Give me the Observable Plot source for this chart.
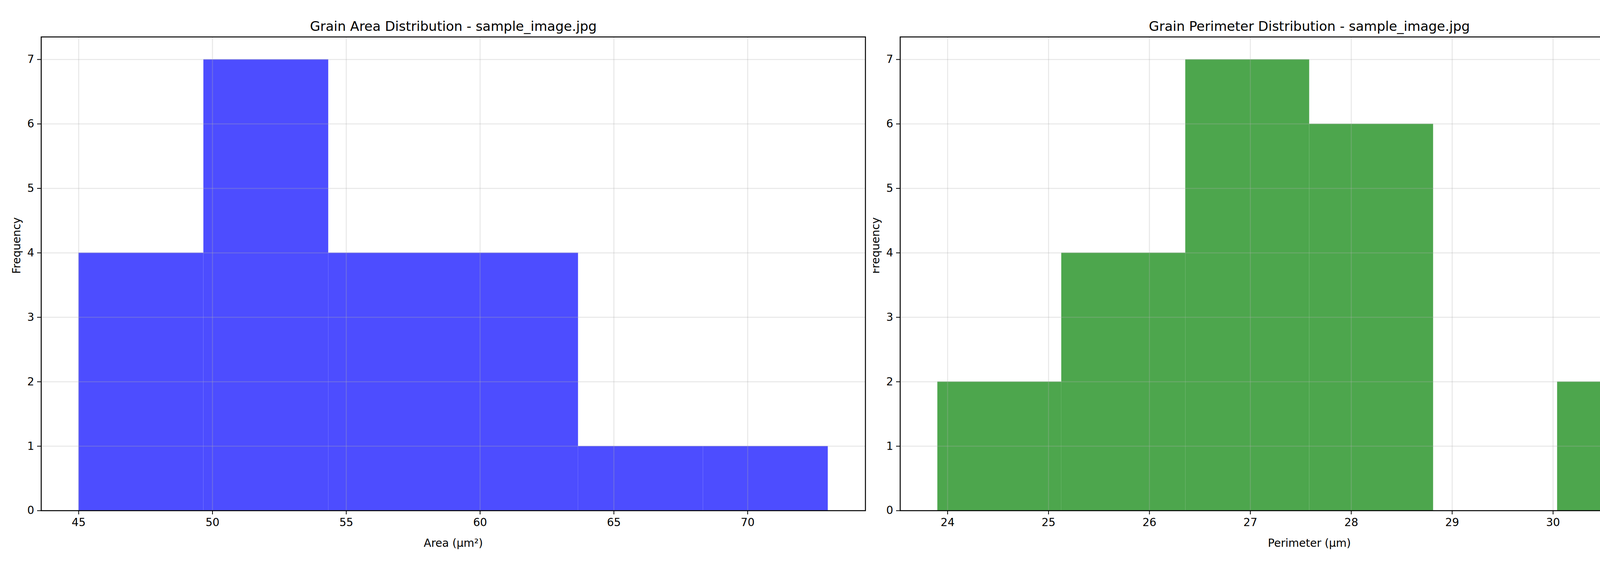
<!DOCTYPE html>
<html><head><meta charset="utf-8">
<script src="https://cdn.jsdelivr.net/npm/d3@7"></script>
<script src="https://cdn.jsdelivr.net/npm/@observablehq/plot@0.6"></script>
<style>html,body{margin:0;padding:0;background:#fff;overflow:hidden;font-family:"DejaVu Sans",sans-serif}
#c{position:relative;width:4470px;height:1466px}
#c svg{position:absolute;top:0;display:block;max-width:none!important}</style>
</head><body><div id="c"></div>
<script>
const areaEdges = [45, 49.667, 54.333, 59, 63.667, 68.333, 73];
const areaCounts = [4, 7, 4, 4, 1, 1];
const areaTicks = [45, 50, 55, 60, 65, 70];
const perimEdges = [23.9, 25.128, 26.357, 27.585, 28.813, 30.042, 31.27];
const perimCounts = [2, 4, 7, 6, 0, 2];
const perimTicks = [24, 25, 26, 27, 28, 29, 30, 31];
const yTicks = [0, 1, 2, 3, 4, 5, 6, 7];

function panel(edges, counts, xTicks, xdom, color, title, xlabel, ml, mr) {
  const bins = counts.map((c, i) => ({x1: edges[i], x2: edges[i+1], y: c}));
  return Plot.plot({
    width: 2235, height: 1466,
    marginLeft: ml, marginRight: mr, marginTop: 94, marginBottom: 160,
    style: {fontFamily: "DejaVu Sans", fontSize: "28px", color: "#000", background: "#fff", maxWidth: "none"},
    x: {domain: xdom, label: null},
    y: {domain: [0, 7.35], label: null},
    marks: [
      Plot.rectY(bins, {x1: "x1", x2: "x2", y: "y", fill: color}),
      Plot.gridX(xTicks, {stroke: "#b0b0b0", strokeOpacity: 0.3, strokeWidth: 2.5}),
      Plot.gridY(yTicks, {stroke: "#b0b0b0", strokeOpacity: 0.3, strokeWidth: 2.5}),
      Plot.axisX(xTicks, {tickSize: 10, tickPadding: 10, fontSize: 28, tickFormat: "d", label: null, strokeWidth: 2}),
      Plot.axisY(yTicks, {tickSize: 10, tickPadding: 8, fontSize: 28, tickFormat: "d", label: null, strokeWidth: 2}),
      Plot.frame({stroke: "#000", strokeWidth: 2.5}),
      Plot.text([title], {frameAnchor: "top", dy: -40, fontSize: 34, text: d => d}),
      Plot.text([xlabel], {frameAnchor: "bottom", dy: 92, fontSize: 28, text: d => d}),
      Plot.text(["Frequency"], {frameAnchor: "left", dx: -62, rotate: -90, fontSize: 28, text: d => d})
    ]
  });
}
const c = document.getElementById("c");
const a = panel(areaEdges, areaCounts, areaTicks, [43.6, 74.4], "#4d4dff",
  "Grain Area Distribution - sample_image.jpg", "Area (μm²)", 105, 20);
const b = panel(perimEdges, perimCounts, perimTicks, [23.53, 31.64], "#4da64d",
  "Grain Perimeter Distribution - sample_image.jpg", "Perimeter (μm)", 69, 71);
a.style.left = "0px"; b.style.left = "2235px";
c.append(a, b);
</script></body></html>
